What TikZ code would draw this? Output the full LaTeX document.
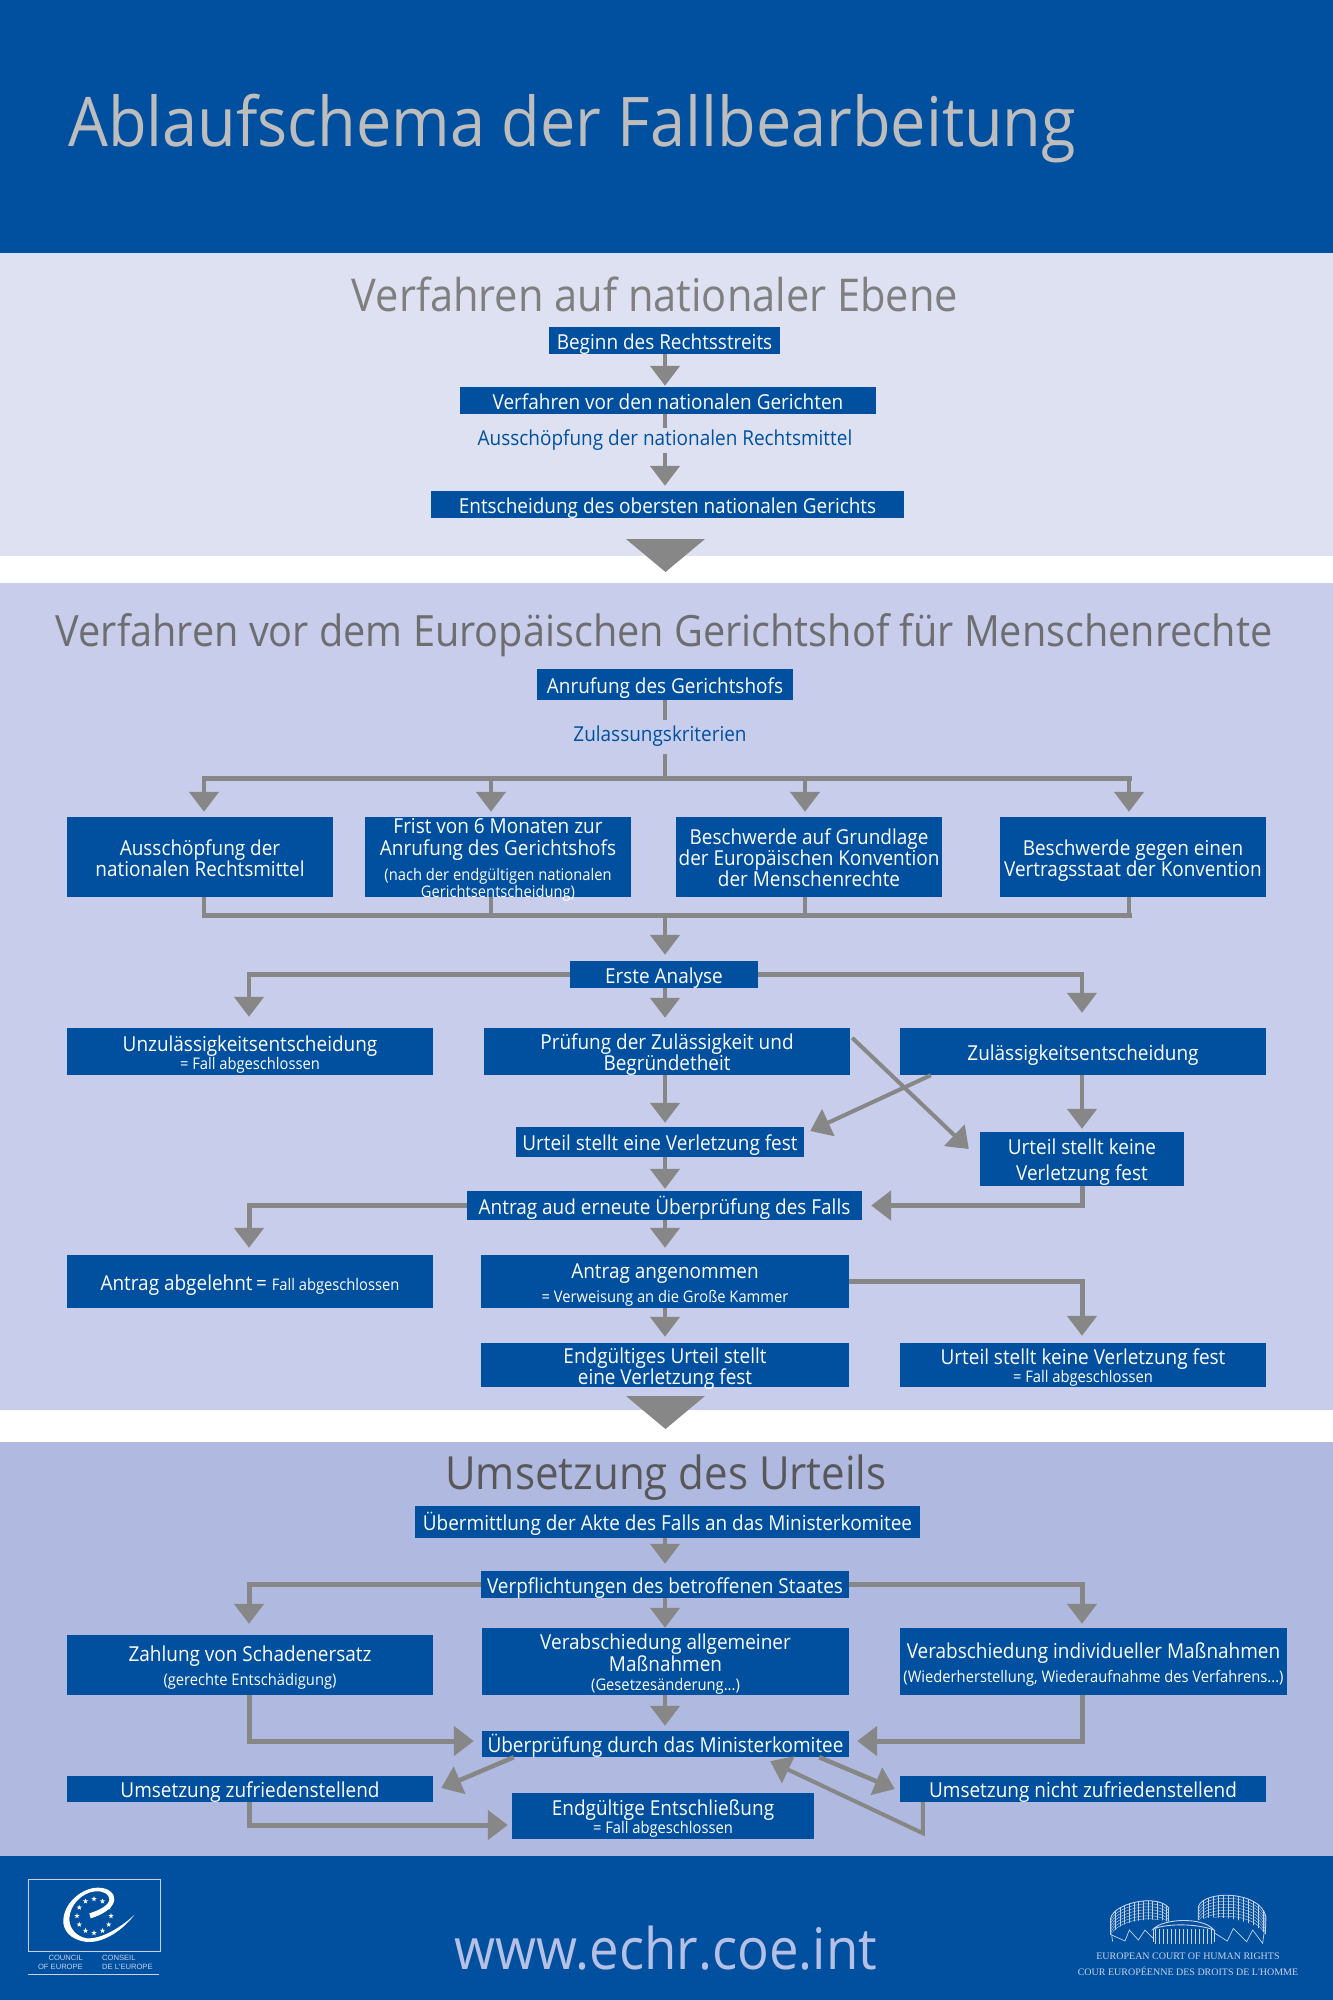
\documentclass[tikz,border=0pt]{standalone}
\usepackage{fontspec}
\setmainfont[FakeStretch=0.92]{Open Sans}
\newfontfamily\crtfont{Liberation Serif}
\newfontfamily\coefont{Liberation Sans}
\usetikzlibrary{arrows.meta,calc}
\definecolor{echrblue}{HTML}{00509F}
\definecolor{secA}{HTML}{DDE1F2}
\definecolor{secB}{HTML}{C7CDEA}
\definecolor{secC}{HTML}{B0BAE0}
\definecolor{arrgray}{HTML}{878787}
\definecolor{paleblue}{HTML}{B5C0E4}
\definecolor{titlegray}{HTML}{BDBDBD}
\definecolor{headA}{HTML}{7F7F80}
\definecolor{headB}{HTML}{6E6E70}
\definecolor{headC}{HTML}{58585A}
\definecolor{logoline}{HTML}{C8D2EC}
\newcommand\subt[1]{{\fontsize{16}{16}\selectfont #1}}
\newcommand\bx[7][]{\node[bluebox,minimum width={(#5-#3)*1pt},minimum height={(#6-#4)*1pt}] (#2) at ({(#3+#5)/2},{(#4+#6)/2}) {};
  \node[boxtext,#1] (#2t) at (#2.center) {\rule{0pt}{22pt}#7\rule[-5pt]{0pt}{5pt}};}
\newcommand\crstar{(-90:2.8) -- (-54:1.1) -- (-18:2.8) -- (18:1.1) -- (54:2.8) -- (90:1.1) -- (126:2.8) -- (162:1.1) -- (198:2.8) -- (234:1.1) -- cycle}
\tikzset{
  x=1pt,y=-1pt,
  bluebox/.style={rectangle,fill=echrblue,draw=none,inner sep=0pt},
  boxtext/.style={rectangle,inner sep=0pt,text=white,align=center,font=\fontsize{20.6}{21}\selectfont},
  lead/.style={font=\fontsize{20.6}{#1}\selectfont},
  conn/.style={draw=arrgray,line width=4.5pt},
  arr/.style={conn,-{Triangle[width=29pt,length=20pt,fill=arrgray]}},
  lbl/.style={inner sep=0pt,text=echrblue,font=\fontsize{20.6}{22}\selectfont},
  heading/.style={inner sep=0pt},
  logoln/.style={draw=logoline,line width=0.55pt},
}
\begin{document}
\begin{tikzpicture}
\useasboundingbox (0,0) rectangle (1333,2000);
% bands
\fill[echrblue] (0,0) rectangle (1333,253);
\fill[secA] (0,253) rectangle (1333,556);
\fill[white] (0,556) rectangle (1333,583);
\fill[secB] (0,583) rectangle (1333,1410);
\fill[white] (0,1410) rectangle (1333,1442);
\fill[secC] (0,1442) rectangle (1333,1856);
\fill[echrblue] (0,1856) rectangle (1333,2000);
% columns
\coordinate (cx) at (665,0);
\coordinate (c249) at (249,0);
\coordinate (c1082) at (1082,0);
\coordinate (k1) at (204,0);
\coordinate (k2) at (491,0);
\coordinate (k3) at (805,0);
\coordinate (k4) at (1129,0);
\coordinate (busA) at (0,778);
\coordinate (busB) at (0,915);
% headings
\node[inner sep=0pt,text=titlegray,font=\fontsize{68.5}{72}\selectfont,anchor=west] (title) at (68,129) {Ablaufschema der Fallbearbeitung};
\node[heading,text=headA,font=\fontsize{45.2}{48}\selectfont] (hA) at (655,294) {Verfahren auf nationaler Ebene};
\node[heading,text=headB,font=\fontsize{43.1}{48}\selectfont] (hB) at (664,635) {Verfahren vor dem Europäischen Gerichtshof für Menschenrechte};
\node[heading,text=headC,font=\fontsize{45.7}{48}\selectfont] (hC) at (666,1478) {Umsetzung des Urteils};
% section 1
\bx{beginn}{549}{327}{780}{354}{Beginn des Rechtsstreits}
\bx{verf}{460}{387}{876}{414}{Verfahren vor den nationalen Gerichten}
\node[lbl,minimum height=25pt] (aus) at (665,440.5) {\rule[-4pt]{0pt}{19pt}Ausschöpfung der nationalen Rechtsmittel};
\bx{entsch}{431}{491}{904}{518}{Entscheidung des obersten nationalen Gerichts}
\draw[arr,shorten >=1pt] (cx|-beginn.south) -- (cx|-verf.north);
\draw[conn] (cx|-verf.south) -- (cx|-aus.north);
\draw[arr,shorten >=5pt] (cx|-aus.south) -- (cx|-entsch.north);
\fill[arrgray] (626,539) -- (705,539) -- (665.5,572) -- cycle;
% section 2
\bx{anruf}{537}{669}{793}{700}{Anrufung des Gerichtshofs}
\node[lbl,minimum height=34pt] (zul) at (660,737) {\rule[-7pt]{0pt}{16pt}Zulassungskriterien};
\bx{ka}{67}{817}{333}{897}{Ausschöpfung der\\nationalen Rechtsmittel}
\bx[lead=17]{kb}{365}{817}{631}{897}{Frist von 6 Monaten zur\\[5pt]Anrufung des Gerichtshofs\\[7pt]\subt{(nach der endgültigen nationalen}\\\subt{Gerichtsentscheidung)}}
\bx{kc}{676}{817}{942}{897}{Beschwerde auf Grundlage\\der Europäischen Konvention\\der Menschenrechte}
\bx{kd}{1000}{817}{1266}{897}{Beschwerde gegen einen\\Vertragsstaat der Konvention}
\draw[conn] (cx|-anruf.south) -- (cx|-zul.north);
\draw[conn] (cx|-zul.south) -- (cx|-busA);
\draw[conn,line width=5pt,line cap=rect] (k1|-busA) -- (k4|-busA);
\draw[arr,shorten >=5pt] (k1|-busA) -- (k1|-ka.north);
\draw[arr,shorten >=5pt] (k2|-busA) -- (k2|-kb.north);
\draw[arr,shorten >=5pt] (k3|-busA) -- (k3|-kc.north);
\draw[arr,shorten >=5pt] (k4|-busA) -- (k4|-kd.north);
\draw[conn] (k1|-ka.south) -- (k1|-busB);
\draw[conn] (k2|-kb.south) -- (k2|-busB);
\draw[conn] (k3|-kc.south) -- (k3|-busB);
\draw[conn] (k4|-kd.south) -- (k4|-busB);
\draw[conn,line width=5pt,line cap=rect] (k1|-busB) -- (k4|-busB);
\bx{ea}{570}{961}{758}{988}{Erste Analyse}
\draw[arr,shorten >=6pt] (cx|-busB) -- (cx|-ea.north);
\bx[lead=18]{unz}{67}{1028}{433}{1075}{Unzulässigkeitsentscheidung\\\subt{= Fall abgeschlossen}}
\bx[lead=19]{pru}{484}{1028}{850}{1075}{Prüfung der Zulässigkeit und\\Begründetheit}
\bx{zls}{900}{1028}{1266}{1075}{Zulässigkeitsentscheidung}
\draw[arr,shorten >=11pt] (ea.west) -| (c249|-unz.north);
\draw[arr,shorten >=15pt] (ea.east) -| (c1082|-zls.north);
\draw[arr,shorten >=10pt] (cx|-ea.south) -- (cx|-pru.north);
\bx{uev}{516}{1127}{804}{1157}{Urteil stellt eine Verletzung fest}
\bx[lead=26]{ukv}{980}{1132}{1184}{1186}{Urteil stellt keine\\Verletzung fest}
\bx{ant}{467}{1191}{862}{1220}{Antrag aud erneute Überprüfung des Falls}
\draw[arr,shorten >=4pt] (cx|-pru.south) -- (cx|-uev.north);
\draw[arr,shorten >=3pt] (c1082|-zls.south) -- (c1082|-ukv.north);
\draw[arr,line width=4pt] ($(pru.north east)+(2,10)$) -- ($(ukv.west)+(-11,-10)$);
\draw[arr,line width=4pt] ($(zls.south west)+(31,0)$) -- ($(uev.east)+(6,-11)$);
\draw[arr,shorten >=2pt] (cx|-uev.south) -- (cx|-ant.north);
\draw[arr,line width=5pt,shorten >=9pt] (c1082|-ukv.south) |- (ant.east);
\bx{aab}{67}{1255}{433}{1308}{Antrag abgelehnt\,= \subt{Fall abgeschlossen}}
\bx[lead=24]{aan}{481}{1255}{849}{1308}{Antrag angenommen\\\subt{= Verweisung an die Große Kammer}}
\draw[arr,line width=5pt,shorten >=7pt] (ant.west) -| (c249|-aab.north);
\draw[arr,shorten >=7pt] (cx|-ant.south) -- (cx|-aan.north);
\bx{end}{481}{1343}{849}{1387}{Endgültiges Urteil stellt\\eine Verletzung fest}
\bx[lead=18]{ukf}{900}{1343}{1266}{1387}{Urteil stellt keine Verletzung fest\\\subt{= Fall abgeschlossen}}
\draw[arr,shorten >=6pt] (cx|-aan.south) -- (cx|-end.north);
\draw[arr,line width=5pt,shorten >=7pt] (aan.east) -| (c1082|-ukf.north);
\fill[arrgray] (626,1396) -- (705,1396) -- (665.5,1429) -- cycle;
% section 3
\bx{ueb}{415}{1506}{920}{1538}{Übermittlung der Akte des Falls an das Ministerkomitee}
\bx{vpf}{481}{1571}{849}{1598}{Verpflichtungen des betroffenen Staates}
\draw[arr,shorten >=7pt] (cx|-ueb.south) -- (cx|-vpf.north);
\bx[lead=24]{zah}{67}{1635}{433}{1695}{Zahlung von Schadenersatz\\\subt{(gerechte Entschädigung)}}
\bx[lead=19]{vag}{482}{1628}{849}{1695}{Verabschiedung allgemeiner\\Maßnahmen\\\subt{(Gesetzesänderung...)}}
\bx[lead=24]{vin}{900}{1628}{1287}{1695}{Verabschiedung individueller Maßnahmen\\\subt{(Wiederherstellung, Wiederaufnahme des Verfahrens...)}}
\draw[arr,line width=5pt,shorten >=11pt] (vpf.west) -| (c249|-zah.north);
\draw[arr,line width=5pt,shorten >=4pt] (vpf.east) -| (c1082|-vin.north);
\draw[arr] (cx|-vpf.south) -- (cx|-vag.north);
\bx{uep}{482}{1731}{849}{1757}{Überprüfung durch das Ministerkomitee}
\draw[arr,shorten >=5pt] (cx|-vag.south) -- (cx|-uep.north);
\draw[arr,line width=5pt,shorten >=8pt] (c249|-zah.south) |- ($(uep.west)+(0,-3)$);
\draw[arr,line width=5pt,shorten >=8pt] (c1082|-vin.south) |- ($(uep.east)+(0,-3)$);
\bx{uzf}{67}{1776}{433}{1802}{Umsetzung zufriedenstellend}
\bx{unz2}{900}{1776}{1266}{1802}{Umsetzung nicht zufriedenstellend}
\bx[lead=18]{ent}{512}{1793}{814}{1839}{Endgültige Entschließung\\\subt{= Fall abgeschlossen}}
\draw[arr] ($(uep.south west)+(32,0)$) -- ($(uzf.east)+(8,-1)$);
\draw[arr] ($(uep.south east)+(-30,0)$) -- ($(unz2.west)+(-5,0)$);
\draw[arr,line width=5pt,shorten >=4pt] (c249|-uzf.south) |- ($(ent.west)+(0,9)$);
\draw[arr,line width=4pt] ($(unz2.south west)+(23,0)$) -- ($(unz2.south west)+(23,31)$) -- ($(uep.south east)+(-79,4)$);
% footer
\node[inner sep=0pt,text=paleblue,font=\fontsize{57.3}{60}\selectfont] (web) at (666,1948) {www.echr.coe.int};
% Council of Europe logo
\draw[logoln] (28,1879) rectangle (160,1951);
\draw[logoln] (28,1974) -- (159,1974);
\begin{scope}[shift={(20,1870)},x=0.3333pt,y=-0.3333pt]
\fill[white] (343,135) .. controls (300,190) and (240,222) .. (195,215) .. controls (150,208) and (128,180) .. (130,150) .. controls (133,95) and (190,52) .. (235,53) .. controls (265,53) and (285,70) .. (283,90) .. controls (280,115) and (245,135) .. (212,145) -- (208,130) .. controls (240,120) and (268,105) .. (268,88) .. controls (268,72) and (250,62) .. (225,64) .. controls (185,68) and (150,105) .. (148,145) .. controls (147,175) and (170,200) .. (200,205) .. controls (250,208) and (310,165) .. (343,135) -- cycle;
\end{scope}
\foreach \a in {0,30,...,330}{
  \fill[white,shift={($(94,1916)+(\a:17)$)}] \crstar;
}
\node[inner sep=0pt,anchor=east,align=right,text=logoline,font=\coefont\fontsize{7.6}{9}\selectfont] (coeA) at (83,1962.5) {COUNCIL\\OF EUROPE};
\node[inner sep=0pt,anchor=west,align=left,text=logoline,font=\coefont\fontsize{7.6}{9}\selectfont] (coeB) at (102,1962.5) {CONSEIL\\DE L'EUROPE};
% Court logo
\begin{scope}[shift={(1070,1885)},x=0.3333pt,y=-0.3333pt]
\begin{scope}
\clip (122,100) .. controls (130,55) and (260,25) .. (296,68) -- (295,110) .. controls (250,95) and (150,105) .. (122,150) -- cycle;
\foreach \d in {0,9,...,54}{\draw[logoln,line width=0.4pt] (122,{100+\d}) .. controls (130,{55+\d}) and (260,{25+\d}) .. (296,{68+\d});}
\foreach \d in {122,136,...,296}{\draw[logoln,line width=0.4pt] (\d,20) -- (\d,160);}
\end{scope}
\draw[logoln,line width=0.8pt] (122,100) .. controls (130,55) and (260,25) .. (296,68) -- (295,110);
\draw[logoln,line width=0.8pt] (122,100) -- (122,150);
\begin{scope}
\clip (385,65) .. controls (400,15) and (570,15) .. (588,95) -- (586,148) .. controls (560,105) and (430,85) .. (385,105) -- cycle;
\foreach \d in {0,9,...,70}{\draw[logoln,line width=0.4pt] (385,{65+\d}) .. controls (400,{15+\d}) and (570,{15+\d}) .. (588,{95+\d});}
\foreach \d in {385,400,...,590}{\draw[logoln,line width=0.4pt] (\d,10) -- (\d,160);}
\end{scope}
\draw[logoln,line width=0.8pt] (385,105) -- (385,65) .. controls (400,15) and (570,15) .. (588,95) -- (586,148);
\draw[logoln,line width=0.7pt] (128,170) -- (125,150) -- (165,168) -- (178,135) -- (205,165) -- (225,135) -- (250,160);
\draw[logoln,line width=0.7pt] (435,145) -- (472,168) -- (490,130) -- (530,170) -- (548,135) -- (578,175) -- (582,145);
\draw[logoln,line width=0.9pt] (250,132) .. controls (280,100) and (400,95) .. (432,135) .. controls (380,115) and (290,115) .. (250,132) -- cycle;
\foreach \d in {255,267,...,430}{\draw[logoln,line width=0.5pt] (\d,132) -- (\d,177);}
\draw[logoln,line width=0.5pt] (250,132) -- (250,172);
\draw[logoln,line width=0.5pt] (432,135) -- (432,172);
\end{scope}
\node[inner sep=0pt,text=logoline,font=\crtfont\fontsize{10}{12}\selectfont] (crtA) at (1188,1956) {EUROPEAN COURT OF HUMAN RIGHTS};
\node[inner sep=0pt,text=logoline,font=\crtfont\fontsize{10}{12}\selectfont] (crtB) at (1188,1971) {COUR EUROPÉENNE DES DROITS DE L'HOMME};
\end{tikzpicture}
\end{document}
